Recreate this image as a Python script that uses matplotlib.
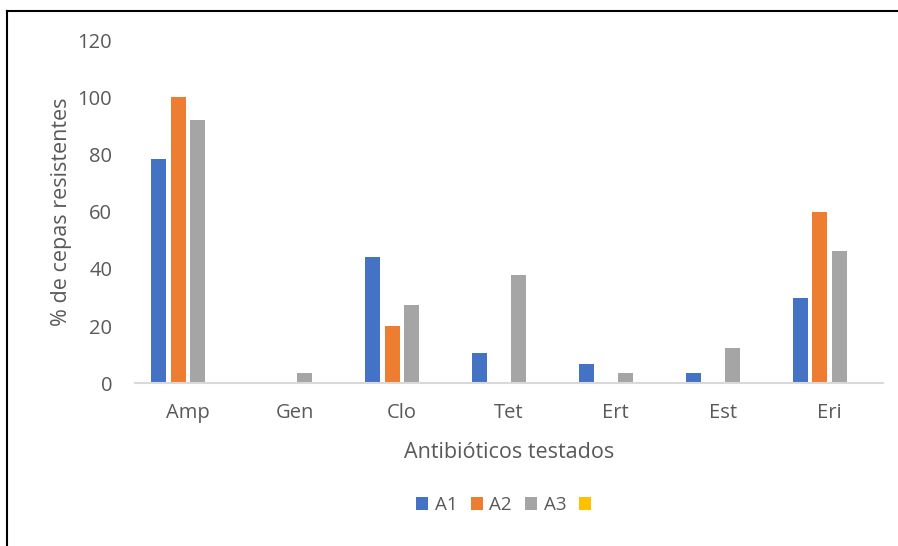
import matplotlib
matplotlib.use("Agg")
import matplotlib.pyplot as plt
import numpy as np
from matplotlib.patches import Patch
from matplotlib.lines import Line2D

# Resistance (%) per antibiotic for each group
categories = ["Amp", "Gen", "Clo", "Tet", "Ert", "Est", "Eri"]
a1 = [78.4, 0, 44.3, 10.7, 6.9, 3.5, 29.7]
a2 = [100, 0, 20, 0, 0, 0, 60]
a3 = [92.2, 3.5, 27.3, 37.8, 3.5, 12.3, 46.2]
a4 = [0, 0, 0, 0, 0, 0, 0]
series_labels = ["A1", "A2", "A3", ""]
colors = ["#4472C4", "#ED7D31", "#A5A5A5", "#FFC000"]
y_ticks = [0, 20, 40, 60, 80, 100, 120]

text_color = "#595959"
plt.rcParams["font.family"] = ["Open Sans", "DejaVu Sans"]

W, H = 898, 546
fig = plt.figure(figsize=(W / 100, H / 100), dpi=100)
ax = fig.add_axes([134.5 / W, 1 - 383.3 / H, (883 - 134.5) / W, (383.3 - 40.1) / H])

x = np.arange(len(categories))
slot = 0.182
bar_w = 0.14
for i, (vals, c) in enumerate(zip([a1, a2, a3, a4], colors)):
    vals = np.asarray(vals, dtype=float)
    mask = vals > 0
    ax.bar(x[mask] + (i - 1.5) * slot, vals[mask], width=bar_w, color=c,
           edgecolor="none", zorder=2)

ax.set_xlim(-0.5, len(categories) - 0.5)
ax.set_ylim(0, 120)
ax.set_yticks(y_ticks)
ax.set_xticks(x)
ax.set_xticklabels(categories)

for s in ["top", "right", "left"]:
    ax.spines[s].set_visible(False)
ax.spines["bottom"].set_color("#D9D9D9")
ax.spines["bottom"].set_linewidth(1.5)
ax.tick_params(axis="both", length=0, labelsize=14.5, colors=text_color)
ax.tick_params(axis="y", pad=16)
ax.tick_params(axis="x", pad=14.5)

ax.set_xlabel("Antibióticos testados", fontsize=15.5, color=text_color, labelpad=13.5)
ax.set_ylabel("% de cepas resistentes", fontsize=15.5, color=text_color, labelpad=4)

handles = [Patch(facecolor=c, edgecolor="none") for c in colors]
fig.legend(handles, series_labels, loc="center", bbox_to_anchor=(507 / W, 1 - 505 / H),
           ncol=4, frameon=False, fontsize=13.5, handlelength=0.65, handleheight=0.7,
           handletextpad=0.35, columnspacing=0.7, labelcolor=text_color)

# Chart frame
fig.add_artist(Line2D([7 / W, 1], [1 - 11 / H, 1 - 11 / H], color="black", lw=1.5,
                      transform=fig.transFigure))
fig.add_artist(Line2D([7 / W, 7 / W], [0, 1 - 11 / H], color="black", lw=1.5,
                      transform=fig.transFigure))

fig.savefig("out.png", dpi=100, facecolor="white")
